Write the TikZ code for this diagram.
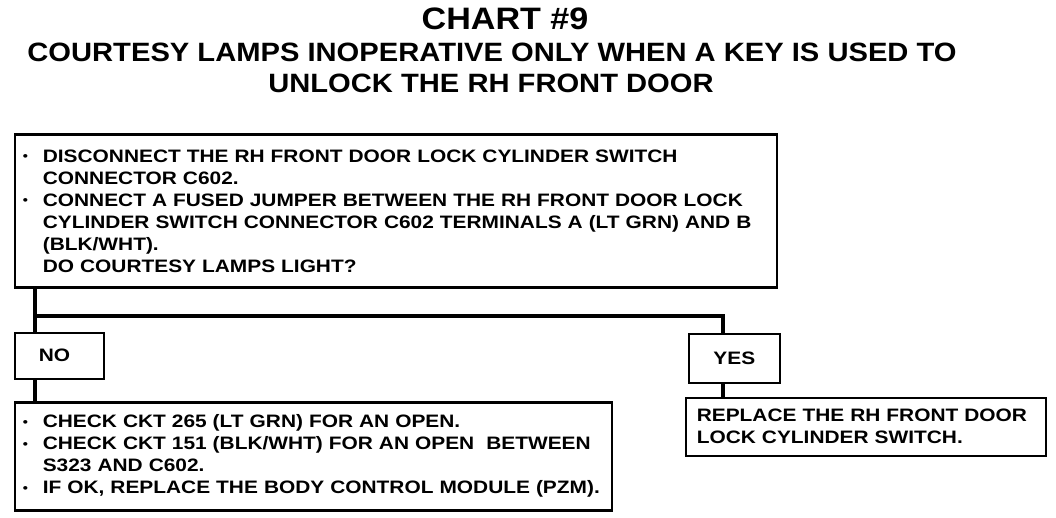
\documentclass[tikz,border=0pt]{standalone}
\usepackage{fontspec}
\setmainfont{Liberation Sans}
\newfontfamily\bodyfont{Liberation Sans}[FakeStretch=1.16]
\newfontfamily\headfont{Liberation Sans}[FakeStretch=1.1]
\usepackage{xcolor}
\usetikzlibrary{calc}
\definecolor{ink}{HTML}{000000}
\tikzset{
  stepbox/.style={draw=ink, line width=2.6pt, rectangle, anchor=north west,
    inner xsep=8pt, inner ysep=0pt, align=left,
    font=\bodyfont\bfseries\fontsize{18}{22}\selectfont},
  answer/.style={stepbox, anchor=north west, align=center, inner xsep=0pt},
  wire/.style={draw=ink, line width=3.6pt},
  heading/.style={anchor=base, font=\headfont\bfseries\fontsize{26.5}{30}\selectfont},
}
\newcommand{\bul}{\makebox[20pt][l]{\raisebox{0.2ex}{\scalebox{0.7}{\textbullet}}}}
\newcommand{\ind}{\hspace*{20pt}}

\begin{document}
\begin{tikzpicture}[x=1pt,y=-1pt]
  \useasboundingbox (0,0) rectangle (1056,518);
  \node[heading, font=\headfont\bfseries\fontsize{31}{34}\selectfont] (chart) at (505,30) {CHART \#9};
  \node[heading] (title1) at (492,62) {COURTESY LAMPS INOPERATIVE ONLY WHEN A KEY IS USED TO};
  \node[heading] (title2) at (491,93) {UNLOCK THE RH FRONT DOOR};

  \node[stepbox, minimum width=762pt, minimum height=153pt, text width=746pt]
    (check) at (13.5,133.5) {%
    \bul DISCONNECT THE RH FRONT DOOR LOCK CYLINDER SWITCH\\
    \ind CONNECTOR C602.\\
    \bul CONNECT A FUSED JUMPER BETWEEN THE RH FRONT DOOR LOCK\\
    \ind CYLINDER SWITCH CONNECTOR C602 TERMINALS A (LT GRN) AND B\\
    \ind (BLK/WHT).\\
    \ind DO COURTESY LAMPS LIGHT?};

  \node[answer, align=left, inner xsep=24pt, text width=41pt, minimum height=46pt] (no) at (13.5,331.5) {NO};
  \node[answer, minimum width=91pt, minimum height=49pt] (yes) at (687.5,332.5) {YES};

  \node[stepbox, minimum width=597pt, minimum height=108pt, text width=581pt]
    (noact) at (13.5,401) {%
    \bul CHECK CKT 265 (LT GRN) FOR AN OPEN.\\
    \bul CHECK CKT 151 (BLK/WHT) FOR AN OPEN\ \ BETWEEN\\
    \ind S323 AND C602.\\
    \bul IF OK, REPLACE THE BODY CONTROL MODULE (PZM).};

  \node[stepbox, inner xsep=11pt, minimum width=360pt, minimum height=58pt, text width=338pt]
    (yesact) at (684.5,396.5) {%
    REPLACE THE RH FRONT DOOR\\
    LOCK CYLINDER SWITCH.};

  % branch lines
  \coordinate (trunk) at (35,0);
  \coordinate (split) at (35,316);
  \coordinate (drop) at (723,0);
  \draw[wire] (check.south -| trunk) -- (no.north -| trunk);
  \draw[wire] (split) -| (yes.north -| drop);
  \draw[wire] (no.south -| trunk) -- (noact.north -| trunk);
  \draw[wire] (yes.south -| drop) -- (yesact.north -| drop);
\end{tikzpicture}
\end{document}
